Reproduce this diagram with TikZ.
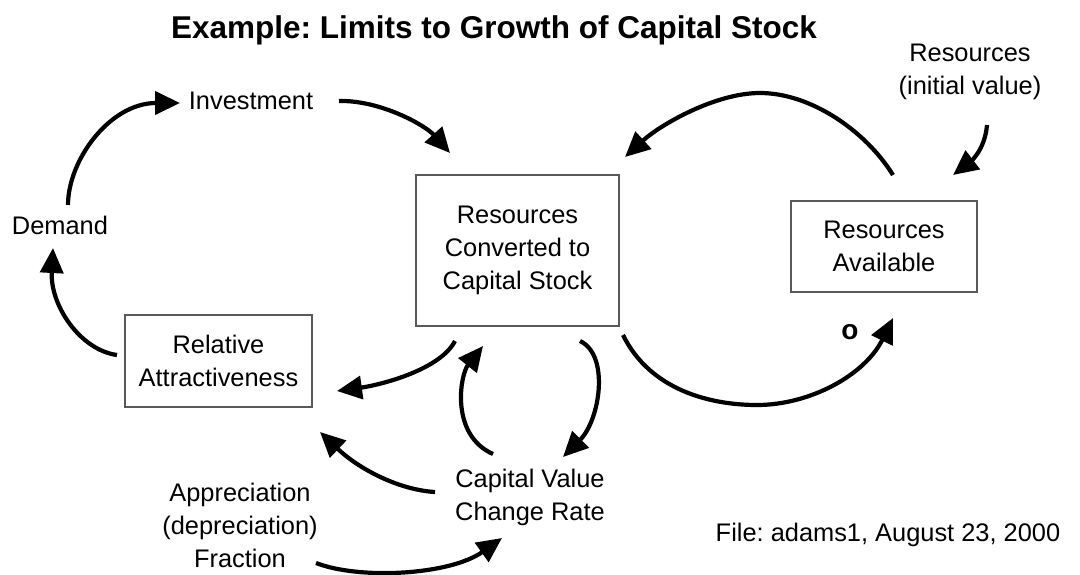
\documentclass[tikz,border=0pt]{standalone}
\usepackage{fontspec}
\setmainfont{Liberation Sans}
\usetikzlibrary{arrows.meta}
\frenchspacing
\begin{document}
\begin{tikzpicture}[x=1pt,y=-1pt,
  lbl/.style={font=\fontsize{25.4}{33}\selectfont, align=center, inner sep=0pt},
  boxn/.style={lbl, draw=black!65, line width=1.2pt},
  link/.style={line width=4.2pt, -{Triangle[length=25pt,width=23pt]}}]
\useasboundingbox[fill=white] (0,0) rectangle (1080,574);
% title
\node[inner sep=0pt, font=\fontsize{31.5}{36}\selectfont\bfseries] (title) at (494,30) {Example: Limits to Growth of Capital Stock};
% variables
\node[lbl] (inv) at (251,101) {Investment};
\node[lbl] (dem) at (60,225) {Demand};
\node[boxn, minimum width=187pt, minimum height=92pt] (rel) at (218.5,361) {Relative\\Attractiveness};
\node[boxn, minimum width=203pt, minimum height=151pt] (rccs) at (517.5,250.5) {Resources\\Converted to\\Capital Stock};
\node[boxn, minimum width=186pt, minimum height=91pt] (ra) at (884,246.5) {Resources\\Available};
\node[lbl] (rinit) at (970,72) {Resources\\(initial value)};
\node[lbl] (cvcr) at (530,497) {Capital Value\\Change Rate};
\node[lbl] (frac) at (240,525) {Appreciation\\(depreciation)\\Fraction};
\node[lbl] (file) at (888,535) {File: adams1, August 23, 2000};
\node[lbl, font=\fontsize{28}{33}\selectfont\bfseries] (olbl) at (850,332) {o};
% connector end points
\coordinate (d1) at (68,205);   \coordinate (i1) at (180,103);
\coordinate (r1) at (117,355);  \coordinate (d2) at (53,248);
\coordinate (i2) at (339,101);  \coordinate (c1) at (450,153);
\coordinate (a1) at (893,175);  \coordinate (a1p) at (760,93); \coordinate (c2) at (625,157);
\coordinate (n1) at (987,125);  \coordinate (a2) at (953,175);
\coordinate (c3) at (623,335);  \coordinate (c3b) at (757,405); \coordinate (a3) at (893,318);
\coordinate (c4) at (455,341);  \coordinate (r2) at (337,391);
\coordinate (v1) at (493,454);  \coordinate (c5) at (483,346);
\coordinate (c6) at (580,341);  \coordinate (v2) at (563,457);
\coordinate (v3) at (435,492);  \coordinate (r3) at (320,432);
\coordinate (f1) at (316,563);  \coordinate (v4) at (502,538);
% connectors
\draw[link] (d1) .. controls (68,160) and (110,103) .. (i1);
\draw[link] (r1) .. controls (80,350) and (50,305) .. (d2);
\draw[link] (i2) .. controls (380,100) and (425,125) .. (c1);
\draw[link] (a1) .. controls (865,130) and (810,93) .. (a1p) .. controls (715,93) and (660,125) .. (c2);
\draw[link] (n1) .. controls (985,150) and (970,162) .. (a2);
\draw[link] (c3) .. controls (650,390) and (710,405) .. (c3b) .. controls (810,405) and (865,375) .. (a3);
\draw[link] (c4) .. controls (440,370) and (380,385) .. (r2);
\draw[link] (v1) .. controls (450,435) and (460,375) .. (c5);
\draw[link] (c6) .. controls (610,355) and (600,420) .. (v2);
\draw[link] (v3) .. controls (400,490) and (360,470) .. (r3);
\draw[link] (f1) .. controls (360,580) and (450,575) .. (v4);
\end{tikzpicture}
\end{document}
